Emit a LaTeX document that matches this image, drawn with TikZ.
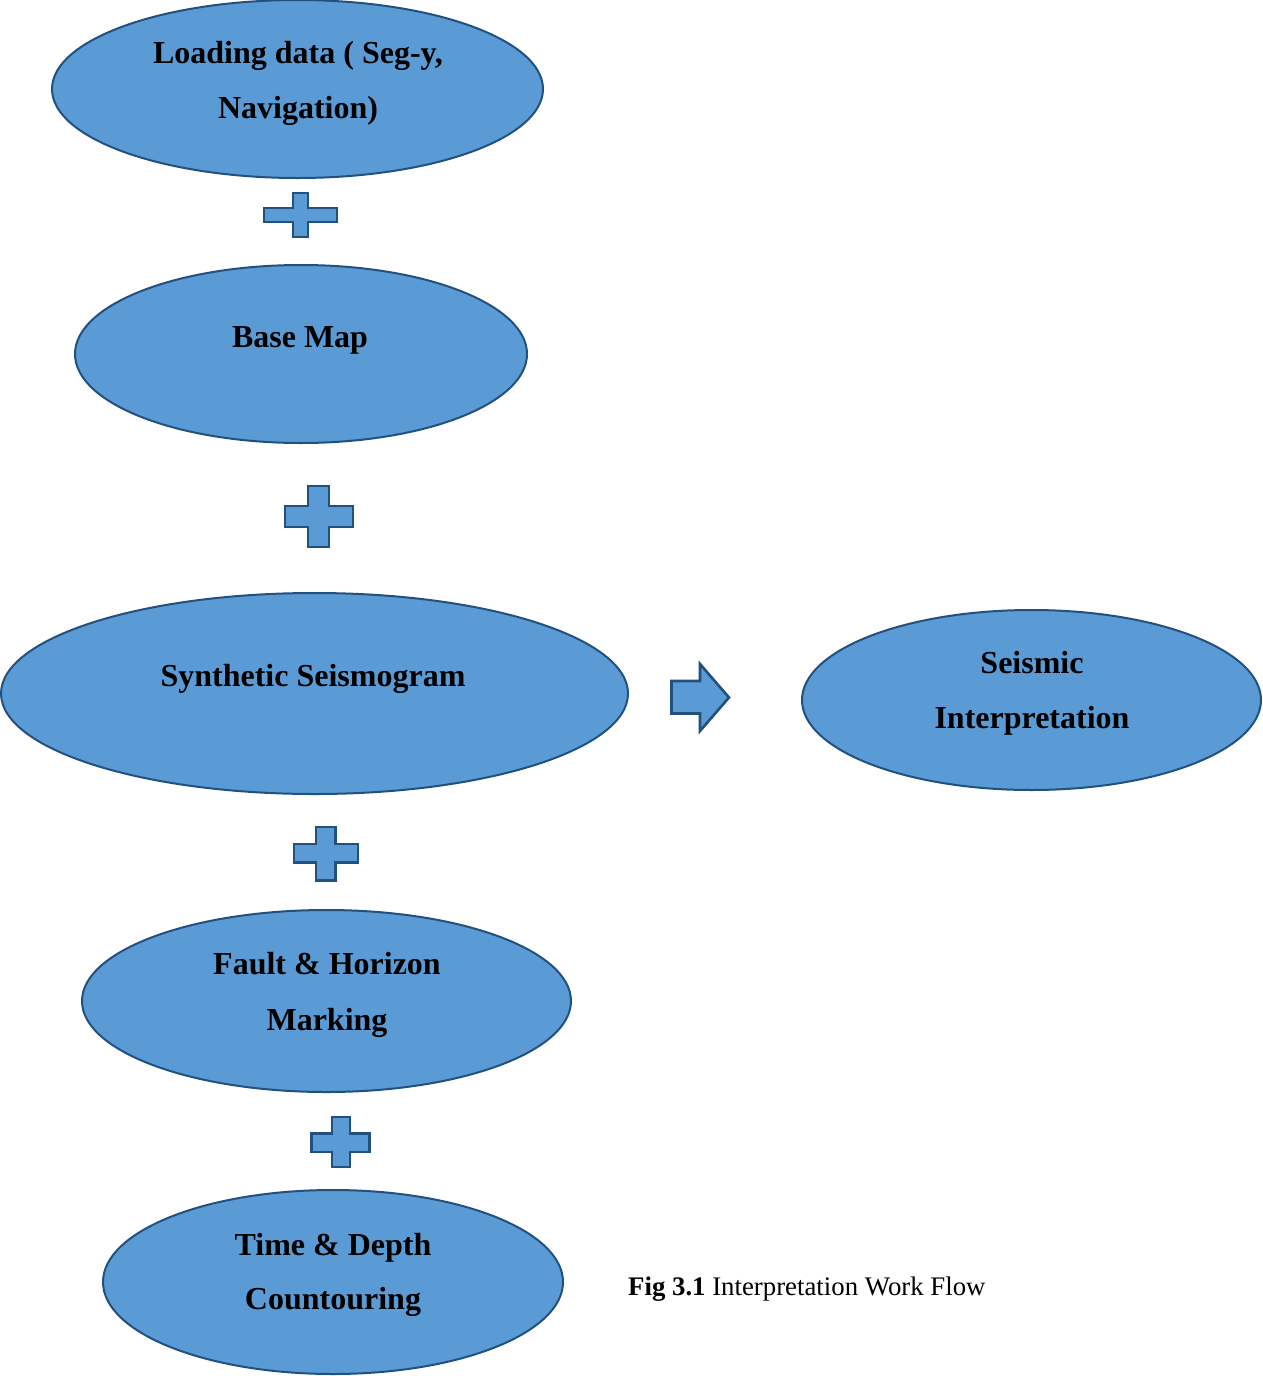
\documentclass[tikz,border=0pt]{standalone}
\usepackage{fontspec}
\setmainfont{Liberation Serif}
\usetikzlibrary{shapes.geometric}
\definecolor{fillblue}{HTML}{5B9BD5}
\definecolor{edgeblue}{HTML}{22507F}
\tikzset{
  oval/.style={ellipse, draw=edgeblue, fill=fillblue, line width=2pt, inner sep=0pt},
  lbl/.style={anchor=base, inner sep=0pt, font=\fontsize{32}{38}\selectfont\bfseries},
  shapefill/.style={draw=edgeblue, fill=fillblue, line width=2.6pt, line join=miter},
}
\begin{document}
\begin{tikzpicture}[x=1pt,y=-1pt]
\useasboundingbox (0,0) rectangle (1262,1376);
% ovals
\node[oval, minimum width=491pt, minimum height=178pt] (load) at (297.5,89) {};
\node[oval, minimum width=452pt, minimum height=178pt] (base) at (301,354) {};
\node[oval, minimum width=627pt, minimum height=201pt] (synth) at (314.5,693.5) {};
\node[oval, minimum width=459pt, minimum height=180pt] (interp) at (1031.5,700) {};
\node[oval, minimum width=489pt, minimum height=182pt] (fault) at (326.5,1001) {};
\node[oval, minimum width=460pt, minimum height=184pt] (time) at (333,1282) {};
% labels
\node[lbl] (t1a) at (298,63) {Loading data ( Seg-y,};
\node[lbl] (t1b) at (298,118) {Navigation)};
\node[lbl] (t2) at (300,347) {Base Map};
\node[lbl] (t3) at (313,686) {Synthetic Seismogram};
\node[lbl] (t4a) at (1032,673) {Seismic};
\node[lbl] (t4b) at (1032,728) {Interpretation};
\node[lbl] (t5a) at (327,974) {Fault \& Horizon};
\node[lbl] (t5b) at (327,1030) {Marking};
\node[lbl] (t6a) at (333,1255) {Time \& Depth};
\node[lbl] (t6b) at (333,1309) {Countouring};
% plus signs
\draw[shapefill] (293,193) -- (308,193) -- (308,208) -- (337,208) -- (337,222) -- (308,222) -- (308,237) -- (293,237) -- (293,222) -- (264,222) -- (264,208) -- (293,208) -- cycle;
\draw[shapefill] (308,486) -- (329,486) -- (329,506) -- (353,506) -- (353,527) -- (329,527) -- (329,547) -- (308,547) -- (308,527) -- (285,527) -- (285,506) -- (308,506) -- cycle;
\draw[shapefill] (316,827) -- (335.5,827) -- (335.5,844) -- (358,844) -- (358,862.5) -- (335.5,862.5) -- (335.5,880.5) -- (316,880.5) -- (316,862.5) -- (294,862.5) -- (294,844) -- (316,844) -- cycle;
\draw[shapefill] (332,1117) -- (350,1117) -- (350,1133.5) -- (369.5,1133.5) -- (369.5,1152) -- (350,1152) -- (350,1167) -- (332,1167) -- (332,1152) -- (311.5,1152) -- (311.5,1133.5) -- (332,1133.5) -- cycle;
% right arrow
\draw[shapefill] (671.5,681) -- (700,681) -- (700,664) -- (729,697.5) -- (700,731) -- (700,713.5) -- (671.5,713.5) -- cycle;
% caption
\node[anchor=base west, inner sep=0pt, font=\fontsize{26.8}{32}\selectfont] (cap) at (628,1295) {\textbf{Fig 3.1} Interpretation Work Flow};
\end{tikzpicture}
\end{document}
